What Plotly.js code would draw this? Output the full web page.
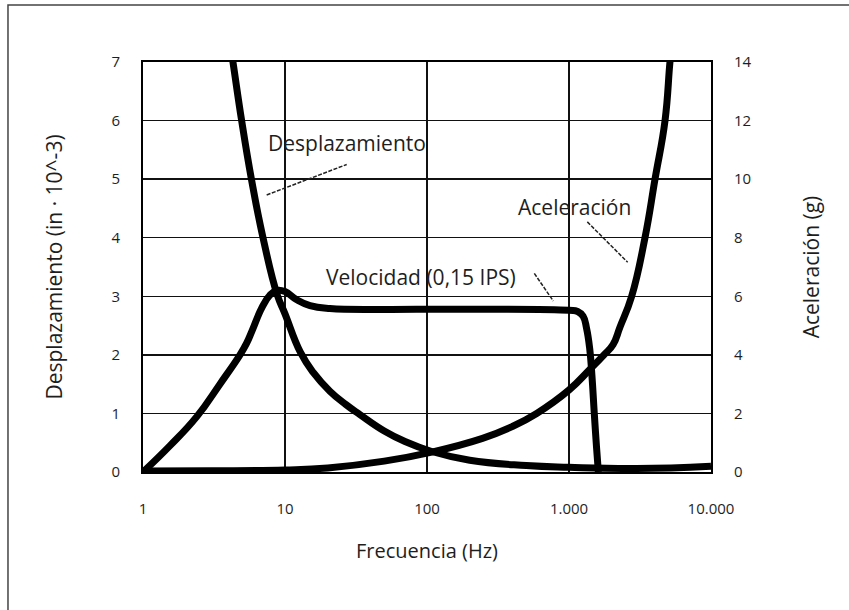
<!DOCTYPE html>
<html><head><meta charset="utf-8">
<script src="https://cdn.plot.ly/plotly-3.0.1.min.js"></script>
<style>html,body{margin:0;padding:0;background:#fff}#chart{width:849px;height:610px}</style>
</head><body><div id="chart"></div>
<script>
// Tick labels
const xTickVals = [1, 10, 100, 1000, 10000];
const xTickText = ['1', '10', '100', '1.000', '10.000'];
const yLeftTicks = [0, 1, 2, 3, 4, 5, 6, 7];
const yRightTicks = [0, 2, 4, 6, 8, 10, 12, 14];

// Desplazamiento (in · 10^-3), left axis
const dispFreq = [4.0, 4.3, 4.95, 5.8, 7.0, 8.8, 10, 12.8, 15.8, 20.7, 26.9, 33.7, 50, 70, 108, 200, 500, 1000, 3000, 10000];
const dispVal  = [7.5, 7.0, 6.0, 5.0, 4.0, 3.03, 2.7, 2.05, 1.7, 1.38, 1.15, 0.98, 0.7, 0.52, 0.35, 0.2, 0.11, 0.08, 0.06, 0.1];

// Velocidad (0,15 IPS), left axis
const velFreq = [1, 1.55, 2.4, 3.48, 4.82, 5.37, 5.86, 6.89, 7.83, 8.79, 10.0, 12.1, 15, 20.7, 100, 1000, 1150, 1256, 1330, 1400, 1450, 1507, 1560, 1610];
const velVal  = [0, 0.45, 0.95, 1.5, 2.0, 2.2, 2.41, 2.81, 3.02, 3.10, 3.08, 2.94, 2.84, 2.79, 2.78, 2.76, 2.74, 2.66, 2.45, 2.1, 1.65, 1.0, 0.45, 0];

// Aceleración (g), right axis
const accFreq = [1, 3, 10, 20, 50, 108, 246, 398, 592, 1000, 1400, 1763, 2042, 2287, 2763, 3428, 4034, 4745, 5140, 5400];
const accVal  = [0.03, 0.04, 0.07, 0.14, 0.37, 0.68, 1.15, 1.55, 2.0, 2.8, 3.5, 4.0, 4.35, 4.95, 6.0, 8.0, 10.0, 12.0, 14.0, 15.0];

// Label texts and their anchor points (frequency, left-axis value)
const labelTexts = ['Desplazamiento', 'Velocidad (0,15 IPS)', 'Aceleración'];
const labelFreq  = [27.5, 91.4, 1094];
const labelVal   = [5.62, 3.33, 4.52];

// Leader lines (frequency pairs, left-axis value pairs)
const leaderFreq = [[7.43, 27.2], [570, 775], [1346, 2590]];
const leaderVal  = [[4.73, 5.25], [3.39, 2.92], [4.27, 3.58]];

const FONT = 'Open Sans, Noto Sans, sans-serif';
const INK = '#1e1e1e';

const curveStyle = {color: '#000', width: 7, shape: 'spline', smoothing: 1.3};

const traces = [
  {x: dispFreq, y: dispVal, type: 'scatter', mode: 'lines', line: curveStyle, yaxis: 'y', hoverinfo: 'skip'},
  {x: velFreq, y: velVal, type: 'scatter', mode: 'lines', line: curveStyle, yaxis: 'y', hoverinfo: 'skip'},
  {x: accFreq, y: accVal, type: 'scatter', mode: 'lines', line: curveStyle, yaxis: 'y2', hoverinfo: 'skip'}
];
leaderFreq.forEach((f, i) => {
  traces.push({x: f, y: leaderVal[i], type: 'scatter', mode: 'lines',
    line: {color: '#222', width: 1.5, dash: '4px,1.5px'}, yaxis: 'y', hoverinfo: 'skip'});
});

const annotations = labelTexts.map((t, i) => ({
  text: t, x: Math.log10(labelFreq[i]), y: labelVal[i], xref: 'x', yref: 'y',
  showarrow: false, font: {family: FONT, size: 21, color: INK}
}));

const layout = {
  width: 849, height: 610, autosize: false,
  paper_bgcolor: '#fff', plot_bgcolor: '#fff',
  margin: {l: 143, r: 138, t: 62, b: 138, pad: 0},
  showlegend: false,
  font: {family: FONT, color: INK},
  xaxis: {
    type: 'log', range: [0, 4], tickmode: 'array', tickvals: xTickVals, ticktext: xTickText,
    showgrid: true, gridcolor: '#111', gridwidth: 1.5, zeroline: false,
    showline: true, mirror: true, linecolor: '#000', linewidth: 2,
    ticks: 'outside', ticklen: 22, tickcolor: 'rgba(0,0,0,0)',
    tickfont: {family: FONT, size: 15, color: INK},
    title: {text: 'Frecuencia (Hz)', font: {family: FONT, size: 20, color: INK}, standoff: 27}
  },
  yaxis: {
    range: [0, 7], tickmode: 'array', tickvals: yLeftTicks,
    showgrid: true, gridcolor: '#111', gridwidth: 1.5, zeroline: false,
    showline: true, linecolor: '#000', linewidth: 2,
    ticks: 'outside', ticklen: 18, tickcolor: 'rgba(0,0,0,0)',
    tickfont: {family: FONT, size: 15, color: INK},
    title: {text: 'Desplazamiento (in · 10^-3)', font: {family: FONT, size: 21, color: INK}, standoff: 43}
  },
  yaxis2: {
    overlaying: 'y', side: 'right', range: [0, 14], tickmode: 'array', tickvals: yRightTicks,
    showgrid: false, zeroline: false,
    showline: true, linecolor: '#000', linewidth: 2,
    ticks: 'outside', ticklen: 18, tickcolor: 'rgba(0,0,0,0)',
    tickfont: {family: FONT, size: 15, color: INK},
    title: {text: 'Aceleración (g)', font: {family: FONT, size: 21, color: INK}, standoff: 54}
  },
  annotations: annotations,
  shapes: [
    {type: 'rect', xref: 'paper', yref: 'paper', x0: -0.2377, x1: 1.27, y0: -0.36, y1: 1.139,
     line: {color: '#444', width: 1.5}, fillcolor: 'rgba(0,0,0,0)', layer: 'below'}
  ]
};

Plotly.newPlot('chart', traces, layout, {displayModeBar: false, staticPlot: true});
</script>
</body></html>
